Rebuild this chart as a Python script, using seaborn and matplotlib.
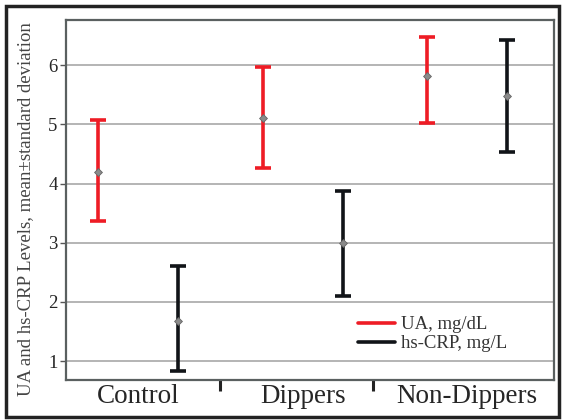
import numpy as np
import pandas as pd
import matplotlib
matplotlib.use("Agg")
import matplotlib.pyplot as plt
from matplotlib.lines import Line2D
from matplotlib.patches import Rectangle
import seaborn as sns

# datos
grupos = ["Control", "Dippers", "Non-Dippers"]
ua_media = [4.20, 5.10, 5.82]
ua_inf = [3.37, 4.27, 5.03]
ua_sup = [5.07, 5.97, 6.48]
crp_media = [1.68, 3.00, 5.48]
crp_inf = [0.83, 2.10, 4.53]
crp_sup = [2.60, 3.88, 6.42]
etiquetas = ["UA, mg/dL", "hs-CRP, mg/L"]
colores = ["#ee1c25", "#111418"]

sns.set_style("white")
plt.rcParams["font.family"] = ["Liberation Serif", "DejaVu Serif"]

fig = plt.figure(figsize=(5.63, 4.2), dpi=100)
ax = fig.add_axes([0.117, 0.095, 0.867, 0.857])

x = np.arange(len(grupos))
series = [(ua_media, ua_inf, ua_sup, -0.243), (crp_media, crp_inf, crp_sup, 0.243)]
for (media, inf, sup, desp), col in zip(series, colores):
    media = np.array(media)
    yerr = [media - np.array(inf), np.array(sup) - media]
    ax.errorbar(x + desp, media, yerr=yerr, fmt="none", ecolor=col,
                elinewidth=2.6, capsize=6, capthick=2.6, zorder=3)
    sns.scatterplot(x=x + desp, y=media, ax=ax, marker="D", s=16,
                    color="#8a8a8a", edgecolor="#666666", linewidth=0.6,
                    zorder=4, legend=False)

ax.set_xlim(-0.441, 2.53)
ax.set_ylim(0.68, 6.76)
ax.set_yticks([1, 2, 3, 4, 5, 6])
ax.yaxis.grid(True, color="#b4b4b4", linewidth=1.4)
ax.set_axisbelow(True)

ax.set_xticks(x)
ax.set_xticklabels(grupos, fontsize=19.5)
# separadores entre grupos
ax.set_xticks([0.496, 1.428], minor=True)
ax.tick_params(axis="x", which="major", length=0, pad=3)
ax.tick_params(axis="x", which="minor", bottom=True, length=8, width=2.2,
               color="#222222", direction="out")
ax.tick_params(axis="y", length=4, width=1, color="#555555", labelsize=13.5,
               pad=2, left=True)

for sp in ax.spines.values():
    sp.set_color("#5a6060")
    sp.set_linewidth(1.6)

ax.set_ylabel("UA and hs-CRP Levels, mean\u00b1standard deviation",
              fontsize=13.5, color="#444444")
ax.yaxis.set_label_coords(-0.066, 0.475)

manejadores = [Line2D([0], [0], color=c, linewidth=2.6) for c in colores]
ax.legend(manejadores, etiquetas, loc="upper left", frameon=False,
          fontsize=13.5, bbox_to_anchor=(0.598, 0.178), borderpad=0,
          borderaxespad=0, handlelength=2.0, labelspacing=0.1,
          handletextpad=0.3, labelcolor="#333333")

# marco exterior
fig.patches.append(Rectangle((0.0115, 0.007), 0.981, 0.979, transform=fig.transFigure,
                             fill=False, edgecolor="#222222", linewidth=2.5))

fig.savefig("out.png", dpi=100)
